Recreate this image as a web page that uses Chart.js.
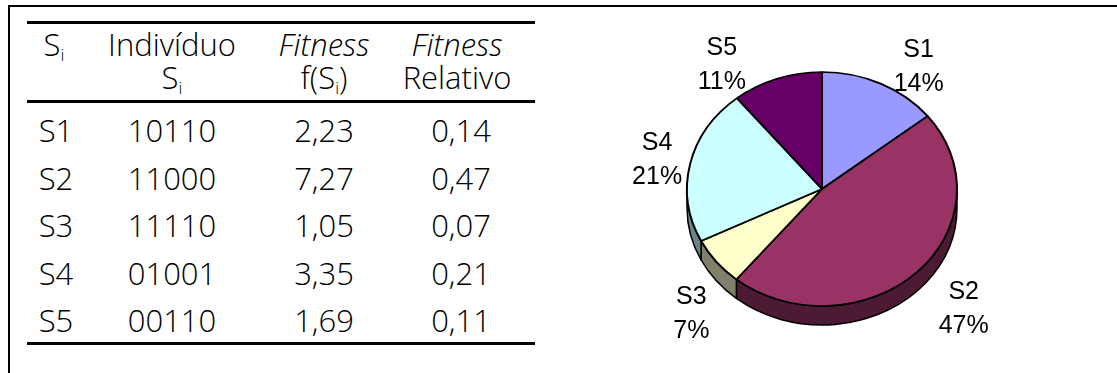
<!DOCTYPE html>
<html>
<head>
<meta charset="utf-8">
<script src="https://cdn.jsdelivr.net/npm/chart.js@4.4.1/dist/chart.umd.min.js"></script>
<style>
  html, body { margin: 0; padding: 0; background: #fff; width: 1117px; height: 373px; overflow: hidden; }
  #frame { position: absolute; left: 8px; top: 5px; right: 0; bottom: 0;
           border-top: 2px solid #000; border-left: 2px solid #000; }
  #table { position: absolute; left: 0; top: 0; font-family: "Open Sans", sans-serif;
           font-size: 31px; font-weight: 300; color: #000; }
  .rule { position: absolute; left: 27px; width: 508px; height: 3px; background: #000; }
  .cell { position: absolute; width: 160px; text-align: center; white-space: nowrap;
          line-height: 34px; height: 34px; }
  .it { font-style: italic; }
  sub { font-size: 55%; vertical-align: -0.32em; line-height: 0; }
  #pie { position: absolute; left: 560px; top: 0; }
</style>
</head>
<body>
<div id="frame"></div>
<div id="table"></div>
<canvas id="pie" width="557" height="373"></canvas>
<script>
// Roulette-wheel selection: individuals, their fitness and relative fitness
const categories = ['S1', 'S2', 'S3', 'S4', 'S5'];
const individuals = ['10110', '11000', '11110', '01001', '00110'];
const fitness = [2.23, 7.27, 1.05, 3.35, 1.69];
const relativeFitness = [0.14, 0.47, 0.07, 0.21, 0.11];

// Slice colours (top face) and the darker tone for the pie's rim
const sliceColors = ['#9999FF', '#993366', '#FFFFCC', '#CCFFFF', '#660066'];
const rimColors = ['#4D4D80', '#4D1A33', '#80806A', '#6A8585', '#330033'];

// Extra shift of each slice label (px) so labels clear the disc and each other
const labelNudge = [[-2, 4], [7, -2], [15, 16], [7, -1], [-15, 8]];

// ---------- table ----------
const colCenters = [56, 172, 324, 461];
const headerRows = [45, 78];
const dataRows = [131, 178.5, 226, 273.5, 321];
const ruleTops = [21, 100, 342];

const tableEl = document.getElementById('table');
function addCell(html, cx, cy, italic) {
  const d = document.createElement('div');
  d.className = 'cell' + (italic ? ' it' : '');
  d.style.left = (cx - 80) + 'px';
  d.style.top = (cy - 18) + 'px';
  d.innerHTML = html;
  tableEl.appendChild(d);
}
ruleTops.forEach(t => {
  const r = document.createElement('div');
  r.className = 'rule';
  r.style.top = t + 'px';
  tableEl.appendChild(r);
});
const sub = 'S<sub>i</sub>';
addCell(sub, colCenters[0] - 2, headerRows[0]);
addCell('Indivíduo', colCenters[1], headerRows[0]);
addCell(sub, colCenters[1], headerRows[1]);
addCell('Fitness', colCenters[2], headerRows[0], true);
addCell('f(' + sub + ')', colCenters[2], headerRows[1]);
addCell('Fitness', colCenters[3] - 4, headerRows[0], true);
addCell('Relativo', colCenters[3] - 4, headerRows[1]);

const fmt = v => v.toFixed(2).replace('.', ',');
categories.forEach((c, i) => {
  addCell(c, colCenters[0], dataRows[i]);
  addCell(individuals[i], colCenters[1], dataRows[i]);
  addCell(fmt(fitness[i]), colCenters[2], dataRows[i]);
  addCell(fmt(relativeFitness[i]), colCenters[3], dataRows[i]);
});

// ---------- tilted 3D pie ----------
const TILT = 117 / 135;   // vertical squash of the pie disc
const DEPTH = 19;         // rim thickness in pixels

const tiltedPie = {
  id: 'tiltedPie',
  beforeDatasetsDraw(chart) {
    const ctx = chart.ctx;
    const meta = chart.getDatasetMeta(0);
    const first = meta.data[0].getProps(['x', 'y', 'outerRadius'], true);
    const cx = first.x, cy = first.y, r = first.outerRadius;

    // rim: only the front half (canvas angles 0..PI) is visible
    ctx.save();
    ctx.lineWidth = 1.5;
    ctx.strokeStyle = '#000';
    ctx.lineJoin = 'round';
    meta.data.forEach((arc, i) => {
      const p = arc.getProps(['startAngle', 'endAngle'], true);
      const a0 = Math.max(p.startAngle, 0);
      const a1 = Math.min(p.endAngle, Math.PI);
      if (a1 <= a0) return;
      ctx.beginPath();
      ctx.ellipse(cx, cy, r, r * TILT, 0, a0, a1);
      ctx.lineTo(cx + r * Math.cos(a1), cy + DEPTH + r * TILT * Math.sin(a1));
      ctx.ellipse(cx, cy + DEPTH, r, r * TILT, 0, a1, a0, true);
      ctx.closePath();
      ctx.fillStyle = rimColors[i];
      ctx.fill();
      ctx.stroke();
    });
    ctx.restore();

    // squash the top faces drawn by the controller
    ctx.save();
    ctx.translate(0, cy);
    ctx.scale(1, TILT);
    ctx.translate(0, -cy);
  },
  afterDatasetsDraw(chart) {
    const ctx = chart.ctx;
    ctx.restore();

    const meta = chart.getDatasetMeta(0);
    const total = fitness.reduce((a, b) => a + b, 0);
    ctx.save();
    ctx.font = '25px "Liberation Sans", Arial, sans-serif';
    ctx.fillStyle = '#000';
    ctx.textAlign = 'center';
    ctx.textBaseline = 'alphabetic';
    meta.data.forEach((arc, i) => {
      const p = arc.getProps(['x', 'y', 'startAngle', 'endAngle', 'outerRadius'], true);
      const mid = (p.startAngle + p.endAngle) / 2;
      const c = Math.cos(mid), s = Math.sin(mid);
      const ex = p.x + p.outerRadius * c;
      const ey = p.y + p.outerRadius * TILT * s + (s > 0 ? DEPTH : 0);
      const lx = ex + Math.sign(c) * 40 + labelNudge[i][0];
      const ly = ey + 25 * s + labelNudge[i][1];
      const pct = Math.round(fitness[i] / total * 100) + '%';
      ctx.fillText(categories[i], lx, ly - 17 + 9);
      ctx.fillText(pct, lx, ly + 17 + 9);
    });
    ctx.restore();
  }
};

new Chart(document.getElementById('pie'), {
  type: 'pie',
  data: {
    labels: categories,
    datasets: [{
      data: fitness,
      backgroundColor: sliceColors,
      borderColor: '#000',
      borderWidth: 2,
      clip: false
    }]
  },
  options: {
    responsive: false,
    devicePixelRatio: 1,
    animation: false,
    events: [],
    layout: { padding: { left: 126, right: 159, top: 53, bottom: 48 } },
    plugins: { legend: { display: false }, tooltip: { enabled: false } }
  },
  plugins: [tiltedPie]
});
</script>
</body>
</html>
